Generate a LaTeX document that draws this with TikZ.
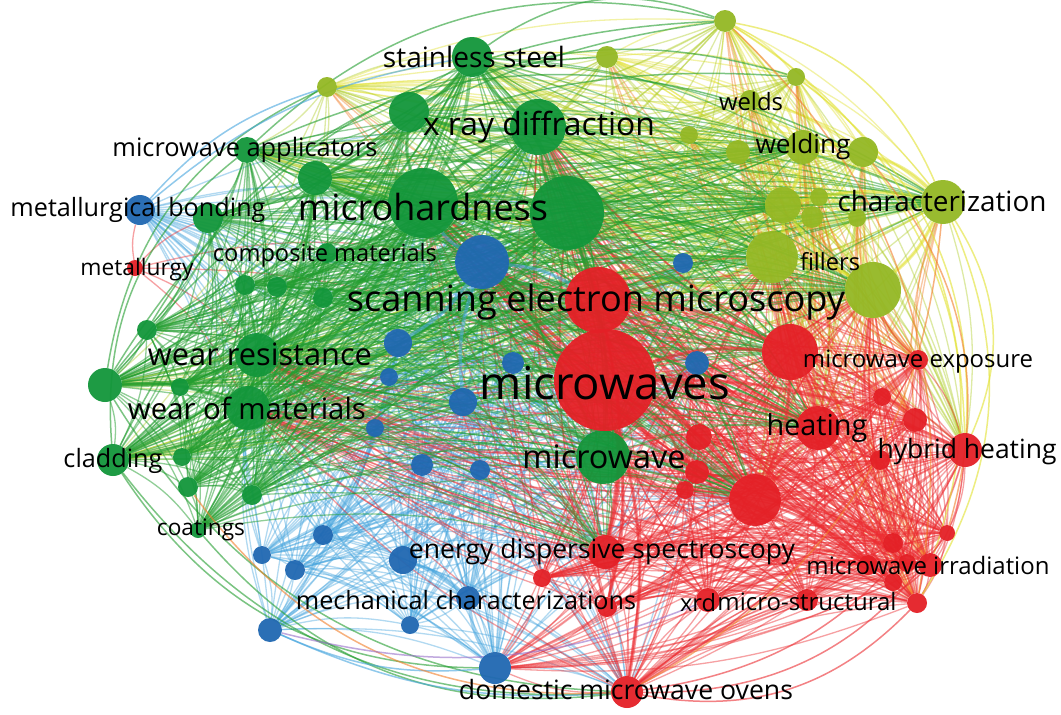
\documentclass[tikz,border=0pt]{standalone}
\usepackage{fontspec}
\setmainfont{Open Sans}
\usepackage{graphicx}
\pgfdeclarelayer{bgl}
\pgfdeclarelayer{edges}
\pgfsetlayers{bgl,edges,main}
\definecolor{cG}{RGB}{18,150,58}
\definecolor{cR}{RGB}{228,32,38}
\definecolor{cB}{RGB}{32,104,178}
\definecolor{cO}{RGB}{148,184,36}
\definecolor{eG}{RGB}{35,158,48}
\definecolor{eR}{RGB}{236,45,50}
\definecolor{eB}{RGB}{70,165,222}
\definecolor{eO}{RGB}{175,205,40}
\definecolor{eY}{RGB}{225,225,45}
\definecolor{eOr}{RGB}{242,125,40}
\definecolor{eP}{RGB}{150,110,200}
\tikzset{
  nd/.style={circle,inner sep=0pt,fill opacity=0.95},
  nG/.style={nd,fill=cG},
  nR/.style={nd,fill=cR},
  nB/.style={nd,fill=cB},
  nO/.style={nd,fill=cO},
  edg/.style={line width=1.3pt,draw opacity=0.42,bend left=12},
  ge/.style={edg,draw=eG,draw opacity=0.5},
  re/.style={edg,draw=eR,draw opacity=0.45},
  be/.style={edg,draw=eB},
  oe/.style={edg,draw=eO},
  ye/.style={edg,draw=eY},
  ore/.style={edg,draw=eOr},
  heavy/.style={line width=3.4pt,draw opacity=0.5},
  arc/.style={line width=1.5pt,draw opacity=0.6,bend left=28},
  lab/.style={inner sep=0pt,text=black}
}
\begin{document}
\begin{tikzpicture}[x=1pt,y=-1pt]
\begin{pgfonlayer}{bgl}
\fill[white] (0,0) rectangle (1061,715);
\end{pgfonlayer}
\useasboundingbox (0,0) rectangle (1061,715);
% ---------- nodes ----------
\foreach \n/\x/\y/\r in {g1/423/203/35,g2/567/213/37,g3/538/127/28,g4/472/57/20,g5/409/112/20,g6/315/178/17,g7/247/150/13,g8/208/218/15,g9/327/253/10,g10/245/285/10,g11/277/287/10,g12/323/298/10,g13/147/330/10,g14/257/355/22,g15/105/385/17,g16/180/387/9,g17/248/408/22,g18/113/460/16,g19/182/457/9,g20/188/487/10,g21/252/495/10,g22/198/530/8,g23/603/457/27}
  {\pgfmathsetmacro\dd{2*\r}\node[nG,minimum size=\dd pt] (\n) at (\x,\y) {};}
\foreach \n/\x/\y/\r in {b1/482/262/27,b2/140/210/15,b3/683/263/10,b4/398/343/14,b5/389/377/9,b6/513/363/11,b7/697/363/12,b8/463/402/14,b9/375/428/9,b10/422/465/11,b11/480/470/10,b12/262/555/9,b13/295/570/10,b14/323/535/10,b15/270/630/12,b16/403/560/14,b17/468/598/12,b18/410/625/9,b19/495/668/16}
  {\pgfmathsetmacro\dd{2*\r}\node[nB,minimum size=\dd pt] (\n) at (\x,\y) {};}
\foreach \n/\x/\y/\r in {r2/598/300/33,r1/605/380/51,r3/790/352/28,r4/918/360/10,r5/882/397/9,r6/915/420/12,r7/818/428/22,r8/965/450/17,r9/880/460/10,r10/699/437/13,r11/697/472/12,r12/685/490/9,r13/755/500/26,r14/605/552/17,r15/542/578/9,r16/607/607/10,r17/627/692/16,r18/708/600/12,r19/807/600/11,r20/947/533/8,r21/893/543/10,r22/868/565/10,r23/907/563/9,r24/930/565/12,r25/893/582/9,r26/917/603/10,r27/135/268/8}
  {\pgfmathsetmacro\dd{2*\r}\node[nR,minimum size=\dd pt] (\n) at (\x,\y) {};}
\foreach \n/\x/\y/\r in {o1/327/87/10,o2/607/57/11,o3/725/21/11,o4/796/77/9,o5/750/100/10,o6/689/135/9,o7/738/152/12,o8/803/147/17,o9/863/152/15,o10/783/205/18,o11/819/197/9,o12/812/217/11,o13/857/218/9,o14/943/202/22,o15/772/257/26,o16/873/290/28}
  {\pgfmathsetmacro\dd{2*\r}\node[nO,minimum size=\dd pt] (\n) at (\x,\y) {};}
% ---------- edges ----------
\begin{pgfonlayer}{edges}
% blue
\foreach \i in {1,...,18}{\pgfmathtruncatemacro\k{\i+1}\foreach \j in {\k,...,19}{\draw[be] (b\i) to (b\j);}}
\foreach \i in {1,...,19}{\foreach \t in {g1,g2,g3,g14,g17,g23,r1,r2,r14,r17,r13}{\draw[be] (b\i) to (\t);}}
% olive / yellow
\foreach \i in {1,...,15}{\pgfmathtruncatemacro\k{\i+1}\foreach \j in {\k,...,16}{\draw[ye] (o\i) to (o\j);}}
\foreach \i in {1,...,16}{\foreach \t in {g1,g2,g3,g4,g5,g6,g7,g15,g18,g14,r1,r2,r3,r7,r8,r13}{\draw[oe] (o\i) to (\t);}}
\foreach \i in {1,...,16}{\foreach \t in {r4,r6,r24,r26}{\draw[ore] (\t) to (o\i);}}
% red
\foreach \i in {1,...,25}{\pgfmathtruncatemacro\k{\i+1}\foreach \j in {\k,...,26}{\draw[re] (r\i) to (r\j);}}
\foreach \i in {1,...,26}{\foreach \t in {g1,g2,g3,g23,g14,g17,o16,o15,b1,b19,b7}{\draw[re] (r\i) to (\t);}}
\foreach \t in {b2,g14,g17,r1,g8,b1}{\draw[re] (r27) to (\t);}
% green
\foreach \i in {1,...,22}{\pgfmathtruncatemacro\k{\i+1}\foreach \j in {\k,...,23}{\draw[ge] (g\i) to (g\j);}}
\foreach \i in {1,...,23}{\foreach \t in {r1,r2,r3,r13,r14,r7,o14,o15,o16,o10,b1,o8}{\draw[ge] (g\i) to (\t);}}
% heavy links
\foreach \a/\b in {g1/g2,g1/g3,g1/g14,g1/g17,g2/g3,g2/g23,g3/g4,g14/g17,g1/g23,g4/g5,g1/g6,g14/g15,g17/g18,g3/g5,g2/g14,g2/g17,g1/g5,g4/g1,g6/g14,g8/g1,g15/g17,g4/g2,g5/g6,g7/g1,g6/g2}{\draw[ge,heavy] (\a) to (\b);}
\foreach \a/\b in {r1/r2,r1/r3,r1/r13,r1/r14,r1/r17,r1/r7,r2/r14,r3/r7,r13/r7,r1/r16,r1/r10,r3/r13,r1/r8,r2/r3}{\draw[re,heavy] (\a) to (\b);}
\foreach \a/\b in {o14/o16,o15/o16,o10/o15,o8/o9,o10/o14,o8/o10,o9/o14,o16/o10}{\draw[ye,heavy] (\a) to (\b);}
\foreach \a/\b in {b1/g1,b1/r2,b19/b17,b16/b17,b1/b4,b8/b1}{\draw[be,heavy] (\a) to (\b);}
% outer arcs
\foreach \a/\b in {g15/o3,g18/o3,g13/o2,g7/o3,g4/o3,g7/o14,g15/o4,g6/o4,g15/o1,g18/g7}{\draw[ge,arc] (\a) to (\b);}
\foreach \a/\b in {b2/o1,b2/g4}{\draw[be,arc,bend left=15] (\a) to (\b);}
\foreach \a/\b in {o3/o14,o3/r8,o4/r8,o14/r8,o14/r26,o9/r24}{\draw[ye,arc] (\a) to (\b);}
\foreach \a/\b in {o3/r26,o14/r17,o9/r20}{\draw[ore,arc] (\a) to (\b);}
\foreach \a/\b in {r8/r17,r26/r17,r20/r17,r24/r19}{\draw[re,arc] (\a) to (\b);}
\foreach \a/\b in {r17/g18,r17/g15,b19/g18,r17/g22}{\draw[ge,arc] (\a) to (\b);}
\foreach \a/\b in {r17/b15,b19/b15}{\draw[be,arc,bend left=14] (\a) to (\b);}
\draw[ore,arc] (r17) to (g20);
\draw[edg,draw=eP,arc,bend left=18] (r18) to (b15);
\end{pgfonlayer}
% ---------- labels ----------
\foreach \x/\y/\w/\t [count=\c] in {
 474/57/182/stainless steel,
 539/127/232/x ray diffraction,
 245/150/265/microwave applicators,
 138/210/255/metallurgical bonding,
 423/207/250/microhardness,
 325/255/224/composite materials,
 137/270/113/metallurgy,
 596/302/498/scanning electron microscopy,
 260/354/224/wear resistance,
 605/383/250/microwaves,
 247/408/238/wear of materials,
 113/461/99/cladding,
 604/457/163/microwave,
 201/530/88/coatings,
 602/552/386/energy dispersive spectroscopy,
 466/600/340/mechanical characterizations,
 626/690/334/domestic microwave ovens,
 698/603/36/xrd,
 807/602/179/micro-structural,
 928/566/243/microwave irradiation,
 967/452/179/hybrid heating,
 817/428/101/heating,
 918/362/230/microwave exposure,
 830/262/60/fillers,
 942/201/209/characterization,
 803/147/95/welding,
 751/102/64/welds}
 {\node[lab] (L\c) at (\x,\y) {\resizebox{\w pt}{!}{\t}};}
\end{tikzpicture}
\end{document}
